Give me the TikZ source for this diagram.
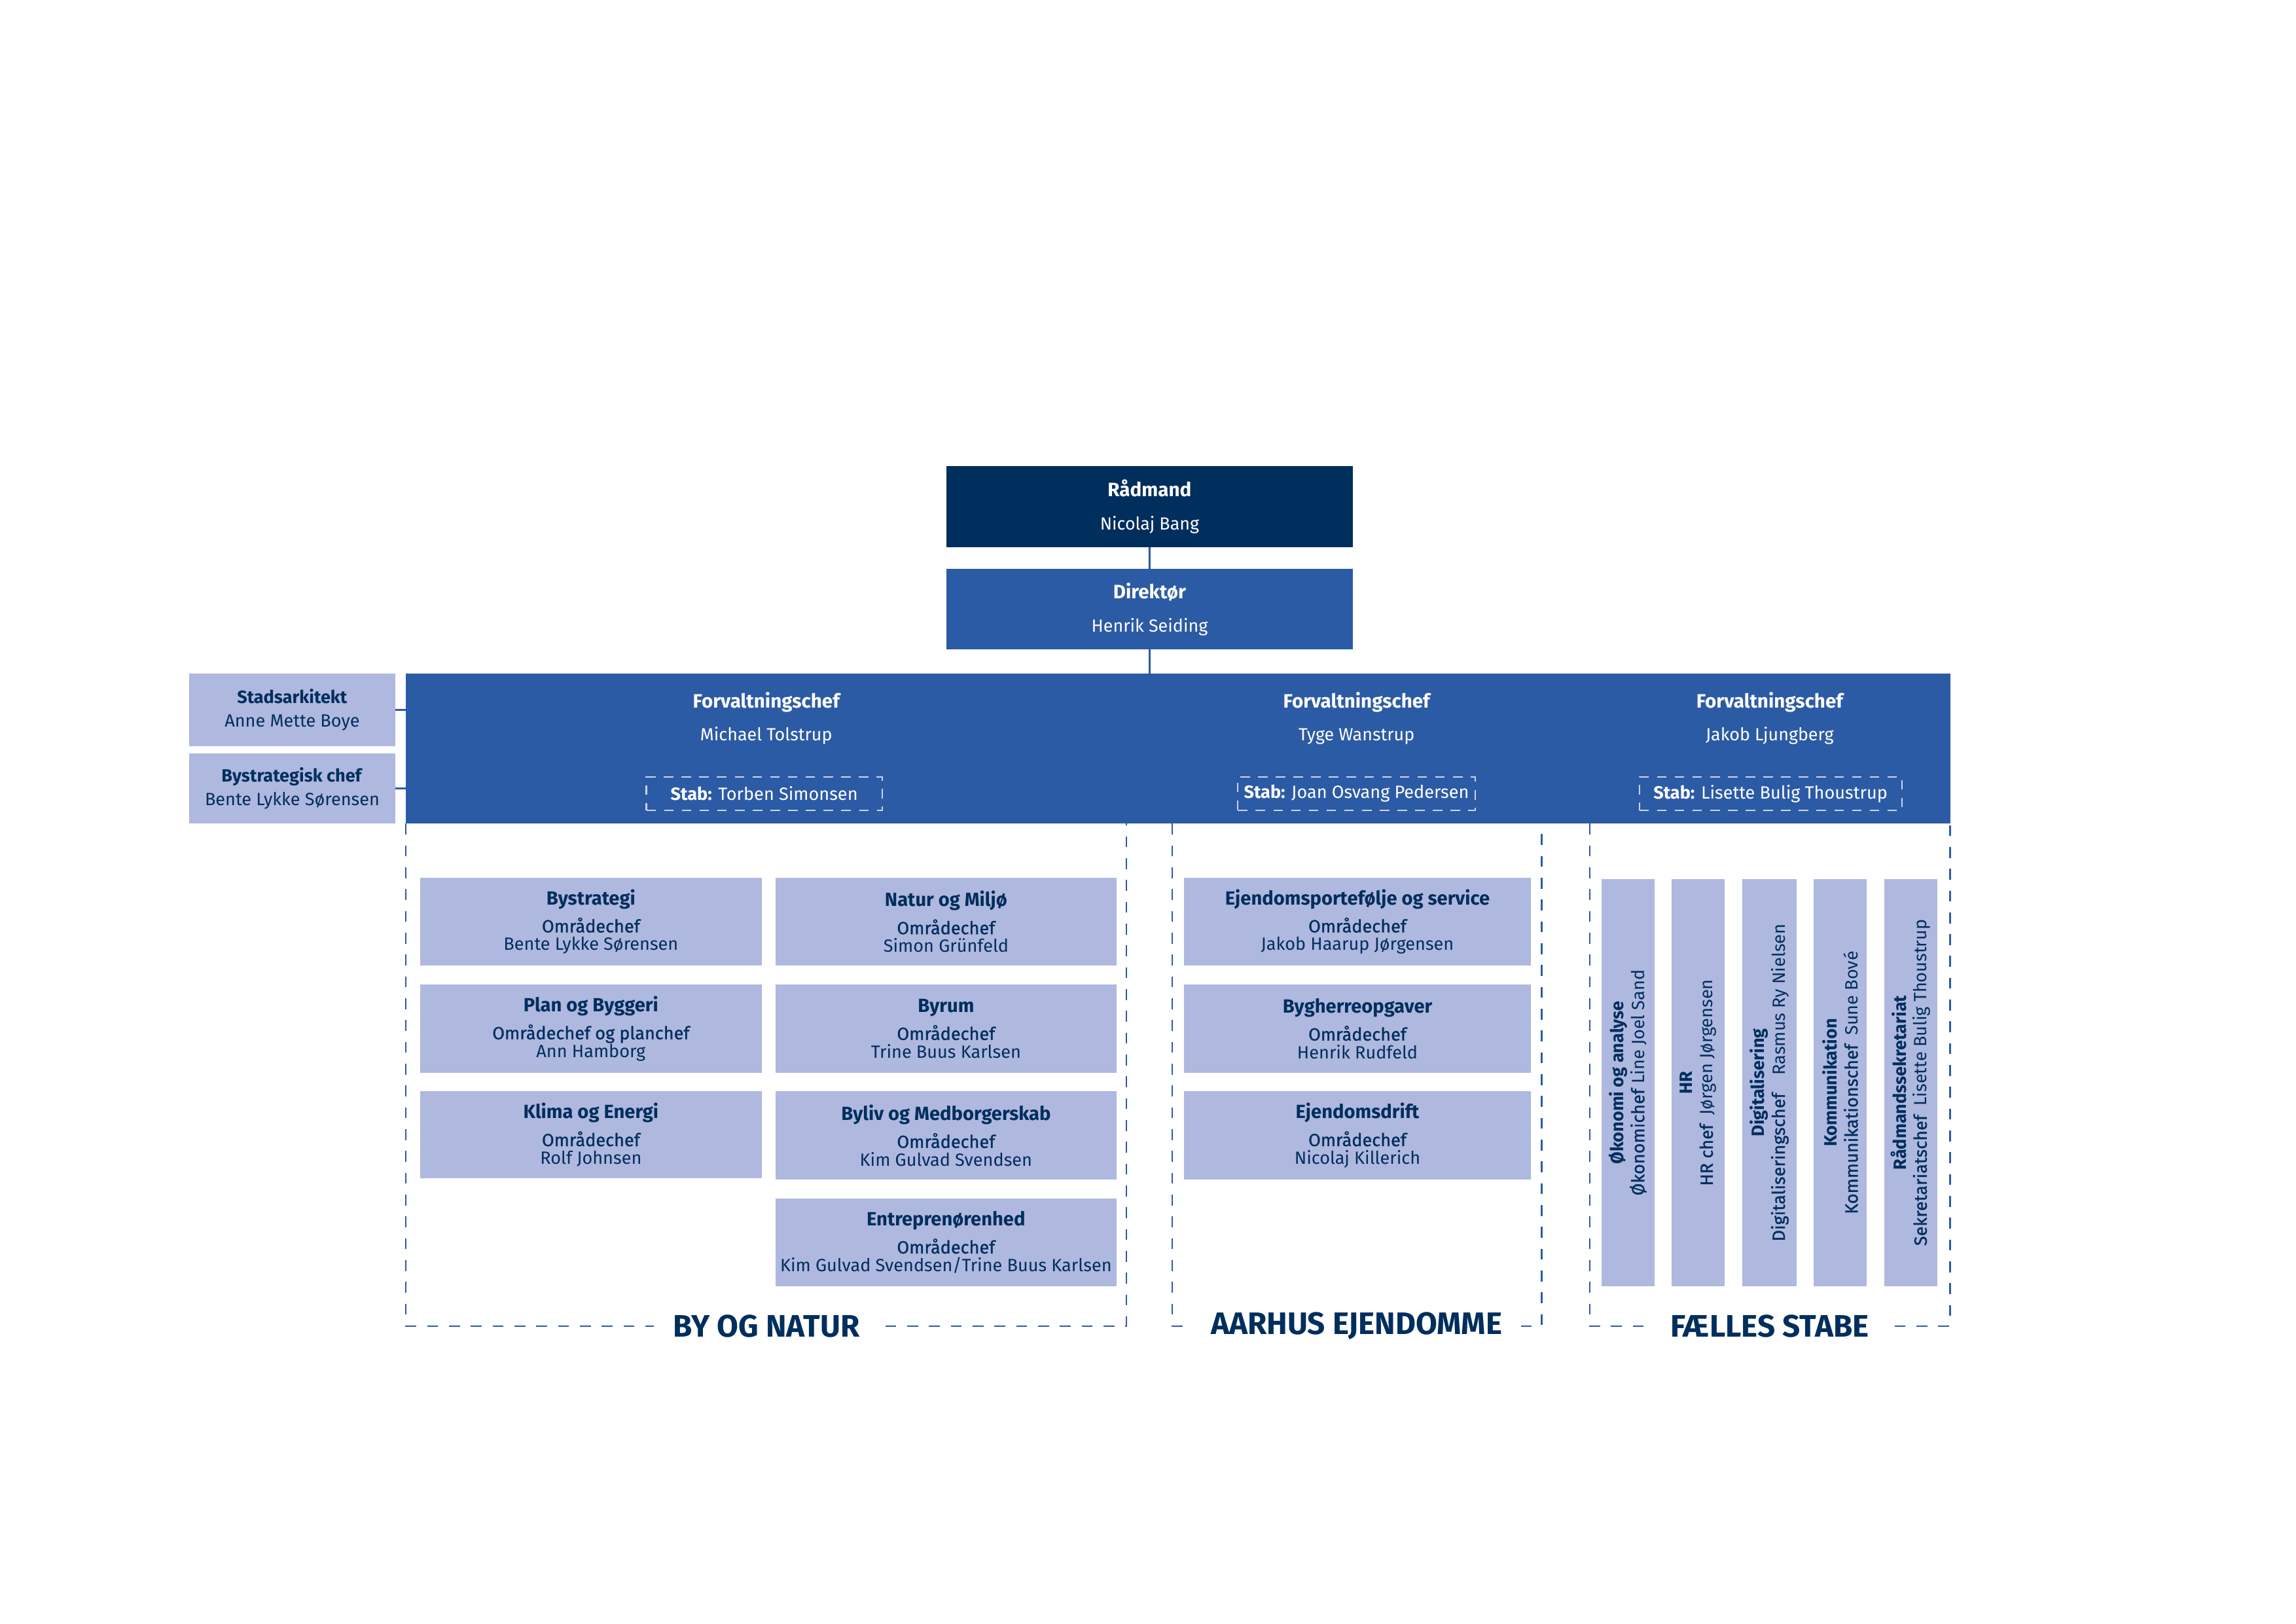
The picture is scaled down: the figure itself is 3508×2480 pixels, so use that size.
\documentclass[tikz,border=0pt]{standalone}
\usepackage{fontspec}
\setmainfont{Fira Sans}
\newfontfamily\medfont[FakeBold=1]{Fira Sans}
\usetikzlibrary{fit}
\definecolor{navy}{RGB}{0,46,93}
\definecolor{midblue}{RGB}{44,91,165}
\definecolor{lightblue}{RGB}{175,184,223}
\definecolor{stabline}{RGB}{205,212,232}
\newcommand{\unit}[3]{{\fontsize{7}{6.6}\selectfont\bfseries #1}\\[2.2pt]{\medfont #2}\\#3}
\newcommand{\ttl}[1]{{\fontsize{7.1}{7}\selectfont\bfseries #1}}
\begin{document}
\begin{tikzpicture}[x=0.24pt,y=-0.24pt,
  every node/.style={inner sep=0pt,outer sep=0pt},
  topbox/.style={fill=navy},
  dirbox/.style={fill=midblue},
  band/.style={fill=midblue},
  toptext/.style={text=white,align=center,font=\fontsize{6.45}{12.3}\selectfont},
  coltext/.style={text=white,align=center,font=\fontsize{6.45}{12}\selectfont},
  stabbox/.style={draw=stabline,line width=0.5pt,dash pattern=on 3.5pt off 3pt},
  stabtext/.style={text=white,font=\fontsize{6.5}{8}\selectfont},
  sidebox/.style={fill=lightblue},
  sidetext/.style={text=navy,align=center,font=\fontsize{6.5}{8.6}\selectfont},
  lbox/.style={fill=lightblue},
  ltext/.style={text=navy,align=center,font=\fontsize{6.5}{6.6}\selectfont},
  fbar/.style={fill=lightblue},
  ftext/.style={rotate=90,text=navy,align=center,font=\fontsize{6.5}{7.6}\selectfont},
  conn/.style={draw=midblue,line width=0.7pt},
  secline/.style={draw=midblue,line width=0.6pt,dash pattern=on 4pt off 4pt},
  seclabel/.style={fill=white,inner xsep=7pt,inner ysep=2pt,text=navy,font=\fontsize{11.4}{12}\selectfont\bfseries}
]
\useasboundingbox (0,0) rectangle (3508,2480);
\begin{scope}[scale=0.9955]
% top
\node[topbox,fit={(1453,715) (2076,840)}] (rad) {};
\node[toptext] (radt) at (rad.center) {\ttl{Rådmand}\\Nicolaj Bang};
\node[dirbox,fit={(1453,873) (2076,997)}] (dir) {};
\node[toptext] (dirt) at (dir.center) {\ttl{Direktør}\\Henrik Seiding};
\node[band,fit={(623,1034) (2993,1264)}] (band) {};
\node[sidebox,fit={(290,1034) (607,1145)}] (stad) {};
\node[sidetext] (stadt) at (stad.center) {\textbf{Stadsarkitekt}\\Anne Mette Boye};
\node[sidebox,fit={(290,1156) (607,1264)}] (bystrat) {};
\node[sidetext] (bystratt) at (bystrat.center) {\textbf{Bystrategisk chef}\\Bente Lykke Sørensen};

\draw[conn] (rad) -- (dir);
\draw[conn] (dir.south) -- (dir.south |- band.north);
\draw[conn] (stad.east) -- (stad.east -| band.west);
\draw[conn] (bystrat.east) -- (bystrat.east -| band.west);

% band columns
\node[coltext] (c1) at (1176,1102) {\ttl{Forvaltningschef}\\Michael Tolstrup};
\node[coltext] (c2) at (2082,1102) {\ttl{Forvaltningschef}\\Tyge Wanstrup};
\node[coltext] (c3) at (2716,1102) {\ttl{Forvaltningschef}\\Jakob Ljungberg};
\node[stabbox,fit={(992,1192) (1354,1244)}] (s1) {};
\node[stabtext] (s1t) at (s1.center) {\textbf{Stab:} Torben Simonsen};
\node[stabbox,fit={(1900,1192) (2264,1244)}] (s2) {};
\node[stabtext] (s2t) at (s2.center) {\textbf{Stab:} Joan Osvang Pedersen};
\node[stabbox,fit={(2516,1192) (2919,1244)}] (s3) {};
\node[stabtext] (s3t) at (s3.center) {\textbf{Stab:} Lisette Bulig Thoustrup};

% sections
\coordinate (bnA) at (623,1264); \coordinate (bnB) at (623,2035);
\coordinate (bnC) at (1729,2035); \coordinate (bnD) at (1729,1264);
\draw[secline] (bnA) -- (bnB) -- (bnC) -- (bnD);
\coordinate (aeA) at (1799,1264); \coordinate (aeB) at (1799,2035);
\coordinate (aeC) at (2366,2035); \coordinate (aeD) at (2366,1264);
\draw[secline] (aeA) -- (aeB) -- (aeC) -- (aeD);
\coordinate (fsA) at (2440,1264); \coordinate (fsB) at (2440,2035);
\coordinate (fsC) at (2993,2035); \coordinate (fsD) at (2993,1264);
\draw[secline] (fsA) -- (fsB) -- (fsC) -- (fsD);
\node[seclabel] (l1) at (1176,2035) {BY OG NATUR};
\node[seclabel] (l2) at (2082,2035) {AARHUS EJENDOMME};
\node[seclabel] (l3) at (2716,2035) {FÆLLES STABE};

% By og Natur
\node[lbox,fit={(645,1347) (1169,1482)}] (bn1) {};
\node[ltext] (bn1t) at (bn1.center) {\unit{Bystrategi}{Områdechef}{Bente Lykke Sørensen}};
\node[lbox,fit={(645,1511) (1169,1646)}] (bn2) {};
\node[ltext] (bn2t) at (bn2.center) {\unit{Plan og Byggeri}{Områdechef og planchef}{Ann Hamborg}};
\node[lbox,fit={(645,1675) (1169,1808)}] (bn3) {};
\node[ltext] (bn3t) at (bn3.center) {\unit{Klima og Energi}{Områdechef}{Rolf Johnsen}};
\node[lbox,fit={(1190,1347) (1714,1482)}] (bn4) {};
\node[ltext] (bn4t) at (bn4.center) {\unit{Natur og Miljø}{Områdechef}{Simon Grünfeld}};
\node[lbox,fit={(1190,1511) (1714,1646)}] (bn5) {};
\node[ltext] (bn5t) at (bn5.center) {\unit{Byrum}{Områdechef}{Trine Buus Karlsen}};
\node[lbox,fit={(1190,1675) (1714,1810)}] (bn6) {};
\node[ltext] (bn6t) at (bn6.center) {\unit{Byliv og Medborgerskab}{Områdechef}{Kim Gulvad Svendsen}};
\node[lbox,fit={(1190,1839) (1714,1974)}] (bn7) {};
\node[ltext] (bn7t) at (bn7.center) {\unit{Entreprenørenhed}{Områdechef}{Kim Gulvad Svendsen/Trine Buus Karlsen}};

% Aarhus Ejendomme
\node[lbox,fit={(1817,1347) (2350,1482)}] (ae1) {};
\node[ltext] (ae1t) at (ae1.center) {\unit{Ejendomsportefølje og service}{Områdechef}{Jakob Haarup Jørgensen}};
\node[lbox,fit={(1817,1511) (2350,1646)}] (ae2) {};
\node[ltext] (ae2t) at (ae2.center) {\unit{Bygherreopgaver}{Områdechef}{Henrik Rudfeld}};
\node[lbox,fit={(1817,1675) (2350,1810)}] (ae3) {};
\node[ltext] (ae3t) at (ae3.center) {\unit{Ejendomsdrift}{Områdechef}{Nicolaj Killerich}};

% Faelles stabe
\node[fbar,fit={(2458,1349) (2539,1974)}] (f1) {};
\node[fbar,fit={(2566,1349) (2647,1974)}] (f2) {};
\node[fbar,fit={(2674,1349) (2757,1974)}] (f3) {};
\node[fbar,fit={(2784,1349) (2865,1974)}] (f4) {};
\node[fbar,fit={(2892,1349) (2973,1974)}] (f5) {};
\node[ftext] (t1) at (f1.center) {\textbf{Økonomi og analyse}\\{\medfont Økonomichef} Line Joel Sand};
\node[ftext] (t2) at (f2.center) {\textbf{HR}\\{\medfont HR chef}\enspace Jørgen Jørgensen};
\node[ftext] (t3) at (f3.center) {\textbf{Digitalisering}\\{\medfont Digitaliseringschef}\quad Rasmus Ry Nielsen};
\node[ftext] (t4) at (f4.center) {\textbf{Kommunikation}\\{\medfont Kommunikationschef}\enspace Sune Bové};
\node[ftext] (t5) at (f5.center) {\textbf{Rådmandssekretariat}\\{\medfont Sekretariatschef}\enspace Lisette Bulig Thoustrup};
\end{scope}
\end{tikzpicture}
\end{document}
